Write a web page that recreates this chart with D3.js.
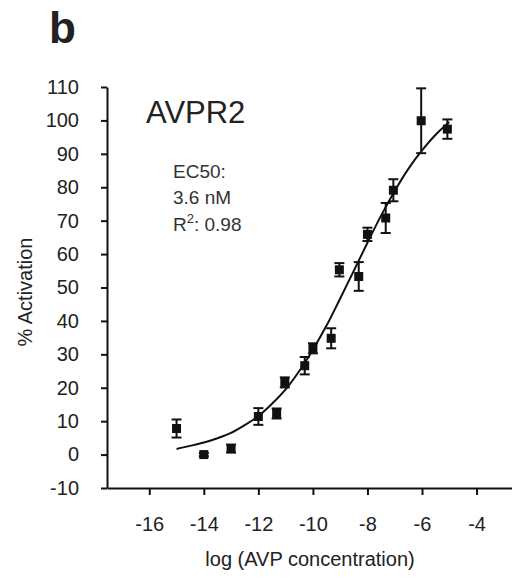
<html>
<head>
<meta charset="utf-8">
<script src='https://d3js.org/d3.v7.min.js'></script>
<style>
	body { margin: 0; background: white; }
	svg { display: block; font-family: Arial, "Liberation Sans", sans-serif; }
</style>
</head>
<body>
<svg width=512 height=579></svg>

<script>

// measured points (log concentration, % activation, error)
var logConc = [-15, -14, -13, -12, -11.33, -11.03, -10.3, -10, -9.33, -9.03, -8.32, -8, -7.33, -7.05, -6.03, -5.07];
var activation = [7.8, 0, 1.8, 11.4, 12.3, 21.6, 26.6, 31.8, 34.8, 55.3, 53.3, 65.9, 70.8, 79.1, 99.9, 97.4];
var errs = [2.7, 0.5, 1.2, 2.5, 1.5, 1.5, 2.6, 1.5, 3, 2, 4.3, 2, 4.5, 3.3, 9.7, 2.9];

// fitted curve
var fitX = [-15, -14.5, -14, -13.5, -13, -12.5, -12, -11.5, -11, -10.5, -10, -9.5, -9, -8.5, -8, -7.5, -7, -6.5, -6, -5.5, -5];
var fitY = [1.7, 2.6, 3.6, 4.9, 6.5, 8.8, 11.5, 15.2, 19.5, 25.0, 31.4, 38.6, 46.7, 55.0, 63.4, 71.5, 78.9, 85.5, 91.0, 95.7, 99.5];

var xTicks = [-16, -14, -12, -10, -8, -6, -4];
var yTicks = [-10, 0, 10, 20, 30, 40, 50, 60, 70, 80, 90, 100, 110];

var svg = d3.select("svg");

var x = d3.scaleLinear().domain([-17.55, -2.7]).range([107, 512]);
var y = d3.scaleLinear().domain([-10, 110]).range([488, 87]);

// plain hyphen for negatives, like the original
var fmt = function(d) { return String(d); };

//y-axis
var yaxis = svg.append("g")
  .attr("transform", "translate(107,0)")
  .call(d3.axisLeft(y).tickValues(yTicks).tickFormat(fmt).tickSize(6).tickSizeOuter(0).tickPadding(22));

//x-axis
var xaxis = svg.append("g")
  .attr("transform", "translate(0,488)")
  .call(d3.axisBottom(x).tickValues(xTicks).tickFormat(fmt).tickSize(7).tickSizeOuter(0).tickPadding(22));

svg.selectAll(".domain").attr("stroke", "#111").attr("stroke-width", 2);
svg.selectAll(".tick line").attr("stroke", "#111").attr("stroke-width", 2);
svg.selectAll(".tick text")
  .style("font-size", "20px")
  .style("font-family", "Arial, 'Liberation Sans', sans-serif")
  .attr("fill", "#222");

//fit curve
var line = d3.line()
  .x(function(d, i) { return x(fitX[i]); })
  .y(function(d) { return y(d); })
  .curve(d3.curveCatmullRom);

svg.append("path")
  .datum(fitY)
  .attr("d", line)
  .attr("fill", "none")
  .attr("stroke", "#111")
  .attr("stroke-width", 2);

//error bars
var bars = svg.append("g").selectAll("g").data(activation).enter().append("g");

bars.append("line")
  .attr("x1", function(d, i) { return x(logConc[i]); })
  .attr("x2", function(d, i) { return x(logConc[i]); })
  .attr("y1", function(d, i) { return y(d + errs[i]); })
  .attr("y2", function(d, i) { return y(d - errs[i]); })
  .attr("stroke", "#111").attr("stroke-width", 2);

[1, -1].forEach(function(s) {
  bars.append("line")
    .attr("x1", function(d, i) { return x(logConc[i]) - 5; })
    .attr("x2", function(d, i) { return x(logConc[i]) + 5; })
    .attr("y1", function(d, i) { return y(d + s * errs[i]); })
    .attr("y2", function(d, i) { return y(d + s * errs[i]); })
    .attr("stroke", "#111").attr("stroke-width", 2);
});

//markers
bars.append("rect")
  .attr("x", function(d, i) { return x(logConc[i]) - 4.5; })
  .attr("y", function(d) { return y(d) - 4.5; })
  .attr("width", 9)
  .attr("height", 9)
  .attr("fill", "#111");

//labels
svg.append("text")
  .attr("x", 49).attr("y", 43)
  .text("b")
  .style("font-size", "44px")
  .style("font-weight", "bold")
  .attr("fill", "#222");

svg.append("text")
  .attr("x", 146).attr("y", 123)
  .text("AVPR2")
  .style("font-size", "31px")
  .attr("fill", "#222");

var info = svg.append("g").attr("fill", "#333").style("font-size", "19px");
info.append("text").attr("x", 173).attr("y", 178).text("EC50:");
info.append("text").attr("x", 173).attr("y", 204).text("3.6 nM");
var r2 = info.append("text").attr("x", 173).attr("y", 231);
r2.append("tspan").text("R");
r2.append("tspan").attr("dy", -8).style("font-size", "13px").text("2");
r2.append("tspan").attr("dy", 8).text(": 0.98");

svg.append("text")
  .attr("transform", "translate(32,292) rotate(-90)")
  .attr("text-anchor", "middle")
  .text("% Activation")
  .style("font-size", "20px")
  .attr("fill", "#222");

svg.append("text")
  .attr("x", 310).attr("y", 566)
  .attr("text-anchor", "middle")
  .text("log (AVP concentration)")
  .style("font-size", "20px")
  .attr("fill", "#222");

</script>
</body>
</html>
